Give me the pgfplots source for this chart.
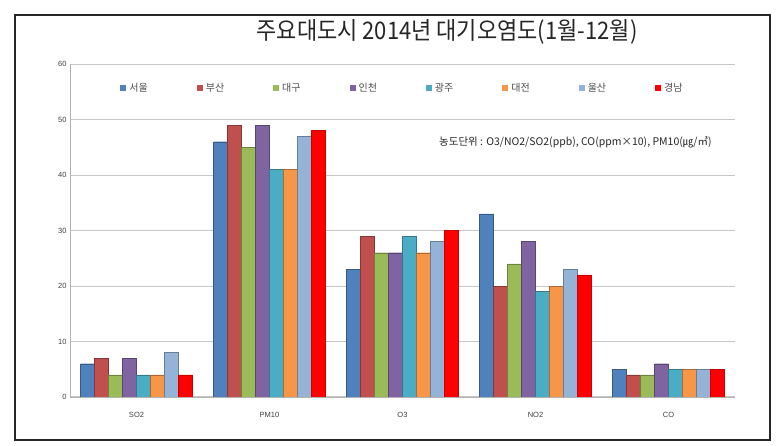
\documentclass[border=0pt]{standalone}
\usepackage{fontspec}
\setmainfont{Liberation Sans}
\newfontfamily\kr{Noto Sans CJK KR}
\usepackage{pgfplots}
\pgfplotsset{compat=1.18}

\definecolor{cSeoul}{HTML}{4F81BD}
\definecolor{cBusan}{HTML}{C0504D}
\definecolor{cDaegu}{HTML}{9BBB59}
\definecolor{cIncheon}{HTML}{8064A2}
\definecolor{cGwangju}{HTML}{4BACC6}
\definecolor{cDaejeon}{HTML}{F79646}
\definecolor{cUlsan}{HTML}{95B3D7}
\definecolor{cGyeongnam}{HTML}{FF0000}

\begin{document}
\begin{tikzpicture}
\path[fill=white] (0,0) rectangle (784bp,446bp);
\draw[black!85, line width=1.2bp] (15bp,6bp) rectangle (770bp,431bp);
\node[font=\kr\fontsize{22bp}{26bp}\selectfont, text=black!85, yscale=1.1] at (447bp,414bp) {주요대도시 2014년 대기오염도(1월-12월)};

\begin{axis}[
  at={(70bp,49bp)}, anchor=south west,
  scale only axis, width=665bp, height=333bp,
  ybar=0pt, bar width=14bp,
  xmin=-0.5, xmax=4.5, ymin=0, ymax=60,
  ytick={0,10,...,60},
  xtick={0,1,2,3,4},
  xticklabels={SO2,PM10,O3,NO2,CO},
  extra x ticks={-0.5,0.5,1.5,2.5,3.5,4.5},
  extra x tick labels={},
  extra x tick style={major tick length=4bp, tick style={gray!70, line width=0.6bp}, grid=none},
  major x tick style={draw=none},
  ymajorgrids, grid style={gray!45, line width=1bp},
  axis x line*=bottom, axis y line*=left,
  axis line style={gray!60, line width=0.8bp},
  y tick style={draw=none},
  tick label style={font=\fontsize{7.5bp}{9bp}\selectfont, text=black!75},
  /pgf/number format/assume math mode=true,
  xticklabel style={yshift=-7bp},
  enlarge x limits=false,
  legend columns=8,
  legend style={at={(0.5,0.955)}, anchor=north, draw=none, fill=none,
    font=\kr\fontsize{10bp}{11bp}\selectfont, text=black!70,
    /tikz/every even column/.append style={column sep=47bp},
    /tikz/every odd column/.append style={column sep=1bp}},
  legend image code/.code={\fill[#1,draw=none] (0bp,-3bp) rectangle (6bp,3bp);},
]
\addplot[fill=cSeoul, draw=cSeoul!70!black] coordinates {(0,6) (1,46) (2,23) (3,33) (4,5)};
\addplot[fill=cBusan, draw=cBusan!70!black] coordinates {(0,7) (1,49) (2,29) (3,20) (4,4)};
\addplot[fill=cDaegu, draw=cDaegu!70!black] coordinates {(0,4) (1,45) (2,26) (3,24) (4,4)};
\addplot[fill=cIncheon, draw=cIncheon!70!black] coordinates {(0,7) (1,49) (2,26) (3,28) (4,6)};
\addplot[fill=cGwangju, draw=cGwangju!70!black] coordinates {(0,4) (1,41) (2,29) (3,19) (4,5)};
\addplot[fill=cDaejeon, draw=cDaejeon!70!black] coordinates {(0,4) (1,41) (2,26) (3,20) (4,5)};
\addplot[fill=cUlsan, draw=cUlsan!70!black] coordinates {(0,8) (1,47) (2,28) (3,23) (4,5)};
\addplot[fill=cGyeongnam, draw=cGyeongnam!80!black] coordinates {(0,4) (1,48) (2,30) (3,22) (4,5)};
\legend{서울,부산,대구,인천,광주,대전,울산,경남}
\node[font=\kr\fontsize{10.5bp}{12bp}\selectfont, text=black!85] at (axis cs:3.3,45.9) {농도단위 : O3/NO2/SO2(ppb), CO(ppm×10), PM10(㎍/㎥)};
\end{axis}
\end{tikzpicture}
\end{document}
